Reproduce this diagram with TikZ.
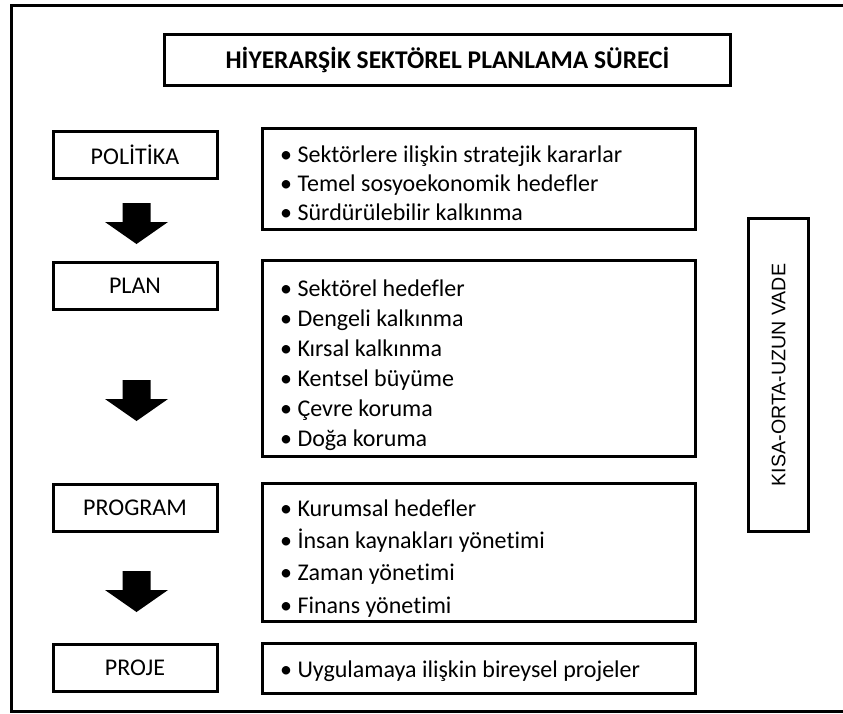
\documentclass[tikz,border=0pt]{standalone}
\usepackage{fontspec}
\setmainfont{Carlito}[Ligatures=NoCommon]
\newfontfamily\arialf{Liberation Sans}
\begin{document}
\begin{tikzpicture}[x=1pt,y=-1pt,
  frame/.style={draw,line width=3pt,inner sep=0pt},
  lbl/.style={frame,minimum width=164pt,minimum height=47pt,font=\fontsize{24}{29}\selectfont},
  listbox/.style={frame,minimum width=433pt},
  item/.style={anchor=base west,inner sep=0pt,font=\fontsize{24}{29}\selectfont},
  downarr/.pic={\fill (-14,0) -- (14,0) -- (14,19) -- (31.5,19) -- (0,41) -- (-31.5,19) -- (-14,19) -- cycle;}
]
\useasboundingbox (0,0) rectangle (843,713);
\draw[line width=3pt] (11,5) rectangle (870,711);

\node[frame,minimum width=566pt,minimum height=51pt,font=\bfseries\fontsize{25.5}{30}\selectfont] (title) at (447.5,60) {HİYERARŞİK SEKTÖREL PLANLAMA SÜRECİ};

% left labels
\node[lbl] (pol) at (135,155) {POLİTİKA};
\node[lbl] (plan) at (135,286) {PLAN};
\node[lbl] (prog) at (135,508) {PROGRAM};
\node[lbl] (proj) at (135,667.5) {PROJE};

% arrows
\pic at (136.5,203) {downarr};
\pic at (136.5,380) {downarr};
\pic at (136.5,571) {downarr};

% list boxes
\node[listbox,minimum height=101pt] (polbox) at (479,179) {};
\node[listbox,minimum height=196pt] (planbox) at (479,358.5) {};
\node[listbox,minimum height=138pt] (progbox) at (479,552.5) {};
\node[listbox,minimum height=50pt] (projbox) at (479,668.5) {};

% items
\node[item] (p1) at (280,162) {• Sektörlere ilişkin stratejik kararlar};
\node[item] (p2) at (280,191) {• Temel sosyoekonomik hedefler};
\node[item] (p3) at (280,220) {• Sürdürülebilir kalkınma};

\node[item] (l1) at (280,296) {• Sektörel hedefler};
\node[item] (l2) at (280,326) {• Dengeli kalkınma};
\node[item] (l3) at (280,356) {• Kırsal kalkınma};
\node[item] (l4) at (280,386) {• Kentsel büyüme};
\node[item] (l5) at (280,416) {• Çevre koruma};
\node[item] (l6) at (280,446) {• Doğa koruma};

\node[item] (g1) at (280,516) {• Kurumsal hedefler};
\node[item] (g2) at (280,548.3) {• İnsan kaynakları yönetimi};
\node[item] (g3) at (280,580.6) {• Zaman yönetimi};
\node[item] (g4) at (280,613) {• Finans yönetimi};

\node[item] (j1) at (280,677) {• Uygulamaya ilişkin bireysel projeler};

% vertical box
\node[frame,rotate=90,minimum width=313pt,minimum height=60pt,font=\arialf\fontsize{19.6}{23}\selectfont] (vade) at (778.5,375) {KISA-ORTA-UZUN VADE};
\end{tikzpicture}
\end{document}
